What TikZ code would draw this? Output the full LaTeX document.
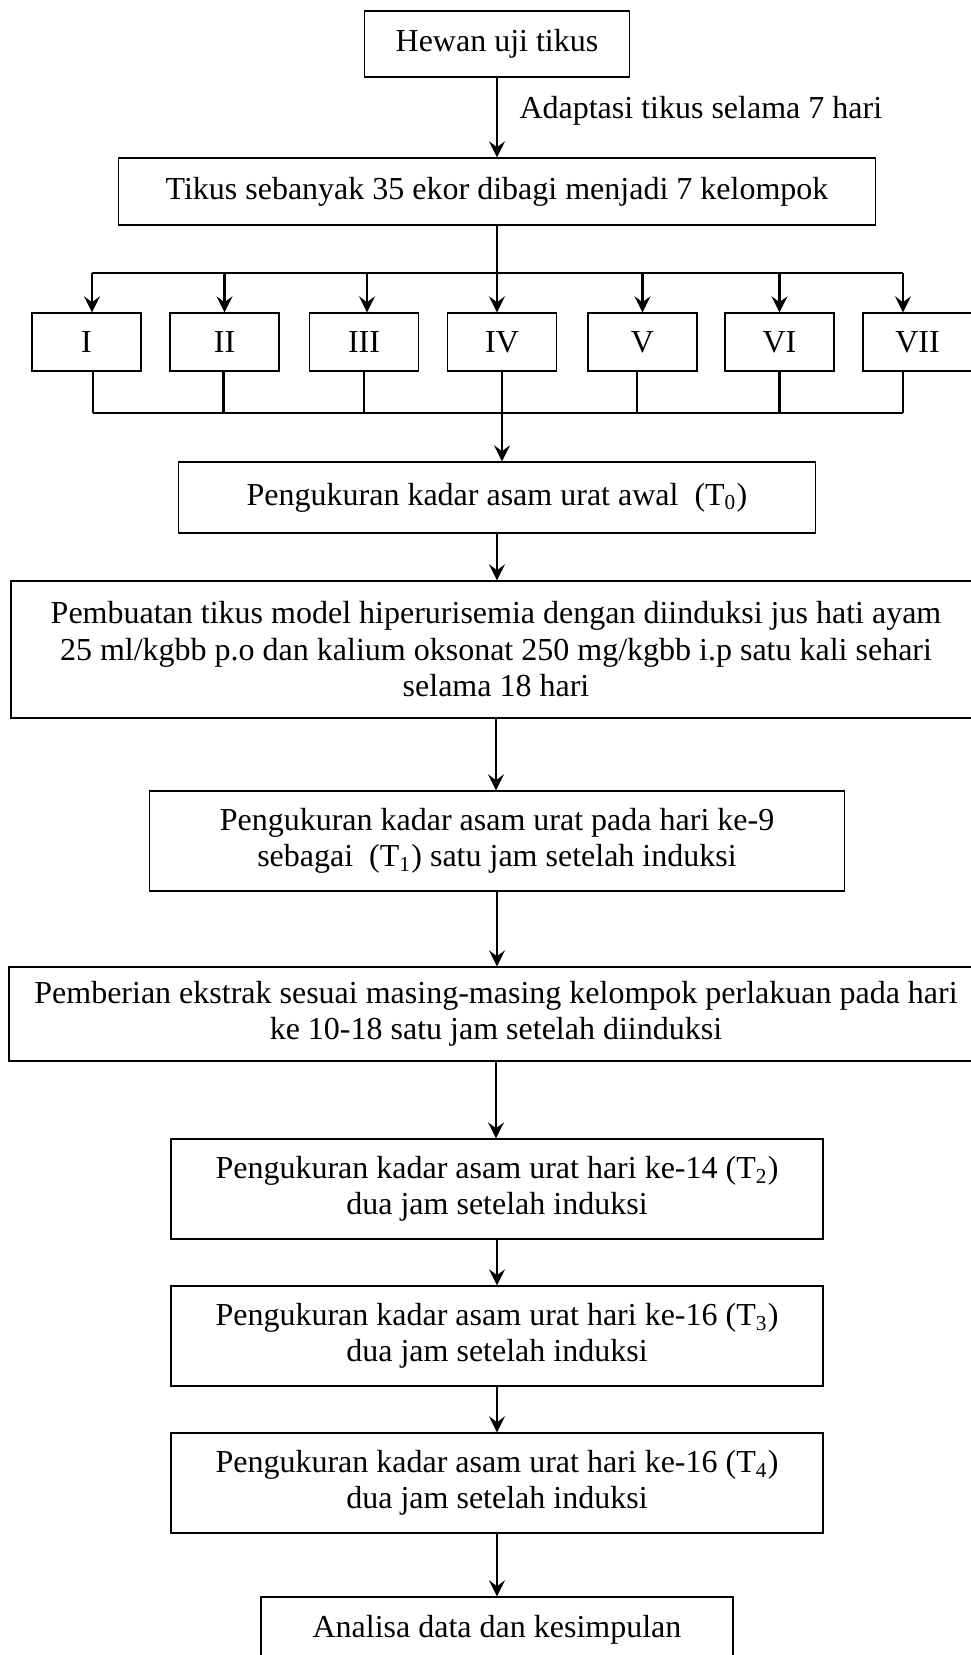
\documentclass[tikz,border=0pt]{standalone}
\usepackage{fontspec}
\setmainfont{Liberation Serif}
\usetikzlibrary{arrows.meta}
\begin{document}
\begin{tikzpicture}[x=0.375pt,y=-0.375pt,
  every node/.style={font=\fontsize{12}{13.7}\selectfont,inner sep=0pt,align=center},
  box/.style 2 args={draw,line width=0.5pt,minimum width=#1*0.375pt,minimum height=#2*0.375pt},
  arr/.style={-{Stealth[length=6pt,width=6pt,inset=2.2pt]},line width=0.9pt},
  bus/.style={line width=1.1pt}]
\useasboundingbox (0,0) rectangle (971,1655);
\clip (0,0) rectangle (971,1655);
\node[box={265}{66}] (hewan) at (497,44) {Hewan uji tikus};
\node[anchor=west] (adaptasi) at (519,111) {Adaptasi tikus selama 7 hari};
\node[box={757}{67}] (kelompok) at (497,191.5) {Tikus sebanyak 35 ekor dibagi menjadi 7 kelompok};
\coordinate (top) at (0,273);
\coordinate (bot) at (0,413);
\foreach \n/\r/\x in {1/I/86.5,2/II/224.5,3/III/364,4/IV/502,5/V/642.5,6/VI/779.5,7/VII/917.5}
  \node[box={109}{58}] (g\n) at (\x,342) {\r};
\node[box={637}{71}] (t0) at (497,497.5) {Pengukuran kadar asam urat awal\ \ (T\textsubscript{0})};
\node[box={970}{137}] (induksi) at (496,649.5) {Pembuatan tikus model hiperurisemia dengan diinduksi jus hati ayam\\
  25 ml/kgbb p.o dan kalium oksonat 250 mg/kgbb i.p satu kali sehari\\ selama 18 hari};
\node[box={695}{100}] (t1) at (497,841) {Pengukuran kadar asam urat pada hari ke-9\\ sebagai\ \ (T\textsubscript{1}) satu jam setelah induksi};
\node[box={974}{94}] (ekstrak) at (496,1014) {Pemberian ekstrak sesuai masing-masing kelompok perlakuan pada hari\\ ke 10-18 satu jam setelah diinduksi};
\node[box={652}{100}] (t2) at (497,1189) {Pengukuran kadar asam urat hari ke-14 (T\textsubscript{2})\\ dua jam setelah induksi};
\node[box={652}{100}] (t3) at (497,1336) {Pengukuran kadar asam urat hari ke-16 (T\textsubscript{3})\\ dua jam setelah induksi};
\node[box={652}{100}] (t4) at (497,1483) {Pengukuran kadar asam urat hari ke-16 (T\textsubscript{4})\\ dua jam setelah induksi};
\node[box={472}{66}] (analisa) at (497,1630) {Analisa data dan kesimpulan};
% bercabang ke tujuh kelompok
\draw[arr] (hewan) -- (kelompok);
\draw[line width=0.9pt] (kelompok.south) -- (kelompok.south |- top);
\draw[bus] ([xshift=5.5*0.375pt]g1.north |- top) -- ([xshift=-14.5*0.375pt]g7.north |- top);
\draw[bus] ([xshift=6.5*0.375pt]g1.south |- bot) -- ([xshift=-14.5*0.375pt]g7.south |- bot);
\foreach \n/\a/\b in {1/5.5/6.5,2/0/-1,3/3/0,4/-5/0,5/0/-5.5,6/0/0,7/-14.5/-14.5} {
  \draw[arr] ([xshift=\a*0.375pt]g\n.north |- top) -- ([xshift=\a*0.375pt]g\n.north);
  \draw[bus] ([xshift=\b*0.375pt]g\n.south) -- ([xshift=\b*0.375pt]g\n.south |- bot);
}
\draw[arr] (g4.south |- bot) -- (g4.south |- t0.north);
\foreach \a/\b in {t0/induksi,induksi/t1,t1/ekstrak,ekstrak/t2,t2/t3,t3/t4,t4/analisa}
  \draw[arr] (\a.south) -- (\a.south |- \b.north);
\end{tikzpicture}
\end{document}
